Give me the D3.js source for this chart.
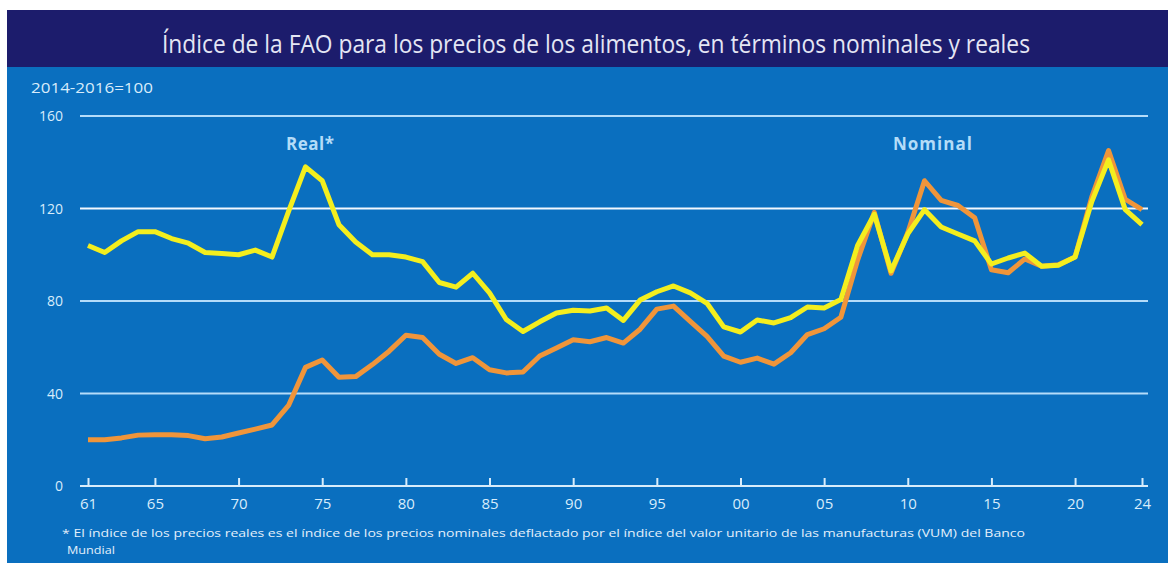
<!DOCTYPE html>
<html>
<head>
<meta charset="utf-8">
<script src="https://cdn.jsdelivr.net/npm/d3@7"></script>
<style>
  body { margin: 0; background: #ffffff; }
  svg { display: block; }
</style>
</head>
<body>
<script>
// data (index 2014-2016 = 100)
var years = d3.range(1961, 2025);

var realValues = [104, 101, 106, 110, 110, 107, 105, 101, 100.5, 100,
    102, 99, 119, 138, 132, 113, 105.5, 100, 100, 99,
    97, 88, 86, 92, 83.5, 72, 66.8, 71, 74.8, 76,
    75.7, 77, 71.6, 80.4, 84, 86.5, 83.5, 79, 68.8, 66.6,
    71.8, 70.5, 72.8, 77.4, 77, 80.6, 104, 117.5, 93, 109,
    119.5, 112, 109, 106, 96, 98.6, 100.7, 95, 95.5, 99,
    123, 141, 119.5, 113];

var nominalValues = [20, 20, 20.8, 22, 22.2, 22.2, 21.8, 20.4, 21.2, 22.9,
    24.6, 26.4, 35, 51.3, 54.5, 47, 47.3, 52.5, 58.3, 65.2,
    64.2, 57, 53, 55.5, 50.3, 48.9, 49.3, 56.2, 59.7, 63.2,
    62.4, 64.2, 61.8, 67.8, 76.5, 77.8, 71.2, 64.7, 56.2, 53.5,
    55.3, 52.7, 57.6, 65.5, 68, 73, 97.7, 118.3, 92, 109.5,
    132, 123.5, 121.3, 116, 93.5, 92.2, 98.2, 95, 95.7, 99,
    125, 145, 124, 119.5];

var yTicks = [0, 40, 80, 120, 160];
var xTicks = [1961, 1965, 1970, 1975, 1980, 1985, 1990, 1995, 2000, 2005, 2010, 2015, 2020, 2024];

var titleText = "Índice de la FAO para los precios de los alimentos, en términos nominales y reales";
var unitText = "2014-2016=100";
var noteLines = ["* El índice de los precios reales es el índice de los precios nominales deflactado por el índice del valor unitario de las manufacturas (VUM) del Banco",
    "Mundial"];

var W = 1168, H = 563;
var font = "'Open Sans', sans-serif";

var svg = d3.select("body").append("svg")
    .attr("width", W)
    .attr("height", H);

// background panels
svg.append("rect")
    .attr("x", 7).attr("y", 67)
    .attr("width", W - 7).attr("height", H - 67)
    .style("fill", "#0a6fbf");

svg.append("rect")
    .attr("x", 7).attr("y", 10)
    .attr("width", W - 7).attr("height", 57)
    .style("fill", "#1c1c6c");

// title squeezed to the narrow width of the original face
svg.append("text")
    .attr("x", 162)
    .attr("y", 53)
    .attr("font-family", font)
    .attr("font-size", "25px")
    .attr("textLength", 868)
    .attr("lengthAdjust", "spacingAndGlyphs")
    .style("fill", "#e4e6f4")
    .text(titleText);

// scales
var x = d3.scaleLinear()
    .domain([1961, 2024])
    .range([88, 1142]);

var y = d3.scaleLinear()
    .domain([0, 160])
    .range([486, 116]);

// grid lines
svg.selectAll(".grid")
    .data(yTicks.filter(function(d) { return d > 0; }))
    .enter()
    .append("line")
    .attr("class", "grid")
    .attr("x1", 80)
    .attr("x2", 1148)
    .attr("y1", function(d) { return y(d); })
    .attr("y2", function(d) { return y(d); })
    .style("stroke", function(d) { return d == 120 ? "#f2f8ff" : "#b4dcfa"; })
    .style("stroke-width", 2);

// y labels
svg.selectAll(".ylab")
    .data(yTicks)
    .enter()
    .append("text")
    .attr("class", "ylab")
    .attr("x", 63)
    .attr("y", function(d) { return y(d) + 5; })
    .attr("text-anchor", "end")
    .attr("font-family", font)
    .attr("font-size", "14px")
    .style("fill", "#d8ecfb")
    .text(function(d) { return d; });

svg.append("text")
    .attr("x", 31)
    .attr("y", 93)
    .attr("font-family", font)
    .attr("font-size", "15px")
    .attr("textLength", 122)
    .attr("lengthAdjust", "spacingAndGlyphs")
    .style("fill", "#d8ecfb")
    .text(unitText);

// x axis
var xAxis = d3.axisBottom(x)
    .tickValues(xTicks)
    .tickSizeInner(-8)
    .tickSizeOuter(0)
    .tickPadding(12)
    .tickFormat(function(d) { return String(d).slice(2); });

var gx = svg.append("g")
    .attr("transform", "translate(0," + y(0) + ")")
    .call(xAxis);

gx.select(".domain")
    .attr("d", "M80,0H1148")
    .style("stroke", "#d8ecfb")
    .style("stroke-width", 2);

gx.selectAll(".tick line")
    .style("stroke", "#d8ecfb")
    .style("stroke-width", 2);

gx.selectAll(".tick text")
    .attr("font-family", font)
    .attr("font-size", "15px")
    .style("fill", "#d8ecfb");

// lines
var line = d3.line()
    .x(function(d) { return x(d[0]); })
    .y(function(d) { return y(d[1]); });

svg.append("path")
    .datum(years.map(function(yr, i) { return [yr, nominalValues[i]]; }))
    .attr("d", line)
    .style("fill", "none")
    .style("stroke", "#f0953a")
    .style("stroke-width", 5)
    .style("stroke-linejoin", "round");

svg.append("path")
    .datum(years.map(function(yr, i) { return [yr, realValues[i]]; }))
    .attr("d", line)
    .style("fill", "none")
    .style("stroke", "#f4ee1e")
    .style("stroke-width", 5)
    .style("stroke-linejoin", "round");

// series labels
svg.append("text")
    .attr("x", 286)
    .attr("y", 150)
    .attr("font-family", font)
    .attr("font-size", "17px")
    .attr("font-weight", "700")
    .attr("letter-spacing", "0.5px")
    .style("fill", "#b4dcf8")
    .text("Real*");

svg.append("text")
    .attr("x", 893)
    .attr("y", 150)
    .attr("font-family", font)
    .attr("font-size", "17px")
    .attr("font-weight", "700")
    .attr("letter-spacing", "1px")
    .style("fill", "#b4dcf8")
    .text("Nominal");

// footnote
svg.selectAll(".note")
    .data(noteLines)
    .enter()
    .append("text")
    .attr("class", "note")
    .attr("x", function(d, i) { return i == 0 ? 62 : 67; })
    .attr("y", function(d, i) { return 537 + i * 17; })
    .attr("font-family", font)
    .attr("font-size", "11.5px")
    .attr("textLength", function(d, i) { return i == 0 ? 963 : 48; })
    .attr("lengthAdjust", "spacingAndGlyphs")
    .style("fill", "#e4f0fb")
    .text(function(d) { return d; });
</script>
</body>
</html>
